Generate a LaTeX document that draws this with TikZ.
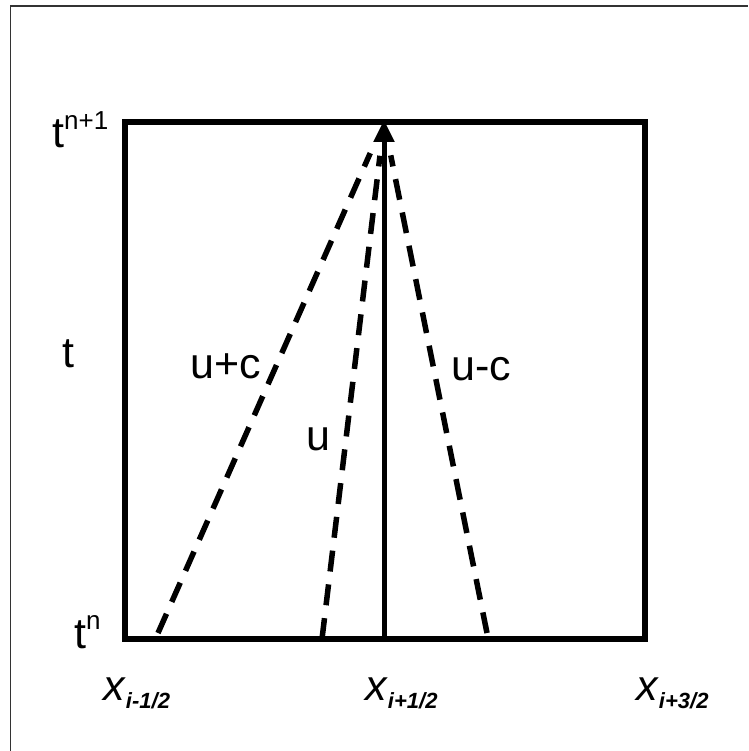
\documentclass[tikz,border=0pt]{standalone}
\usepackage{fontspec}
\setmainfont{Liberation Sans}
\usetikzlibrary{arrows.meta,positioning}

\newcommand{\lblfont}{\fontsize{43}{43}\selectfont}
\newcommand{\supfont}{\fontsize{26}{26}\selectfont}
\newcommand{\subfont}{\fontsize{22}{22}\selectfont\bfseries\itshape}
\newcommand{\tsup}[1]{t\raisebox{.42em}{\supfont #1}}
\newcommand{\xsub}[1]{\textit{x}\raisebox{-8pt}{\subfont #1}}

\begin{document}
\begin{tikzpicture}[x=1pt, y=-1pt, every node/.style={font=\lblfont, inner sep=0pt}, lbl/.style={anchor=base west}, cell/.style={line width=5.5pt}, wave/.style={line width=5.5pt, dash pattern=on 21pt off 13pt, shorten >=34pt}, arrow/.style={-{Triangle[length=22pt,width=20pt]}, line width=5pt}]
\useasboundingbox (0,0) rectangle (748,751);
\draw[line width=1.5pt, black!80] (10.5,751)--(10.5,6)--(748,6);
% cell
\draw[cell] (125,122) rectangle (645,639);
\coordinate (top) at (384,122);
\coordinate (mid) at (384,639);
\coordinate (pc) at (158,633);
\coordinate (pu) at (322,639);
\coordinate (mc) at (487,633);
\draw[arrow] (mid)--([yshift=2pt]top);
\draw[wave] (pc)--(top); \draw[wave] (pu)--(top); \draw[wave] (mc)--(top);
% labels
\node[lbl] (tnp) at (52,148) {\tsup{n+1}};
\node[lbl] (tn) at (74,648) {\tsup{n}};
\node[lbl] (t) at (62,367) {t};
\node[lbl] (lupc) at (190,378) {u+c};
\node[lbl] (lu) at (306,450) {u};
\node[lbl] (lumc) at (451,380) {u-c};
\node[lbl] (xa) at (103,700) {\xsub{i-1/2}};
\node[lbl] (xb) at (365,700) {\xsub{i+1/2}};
\node[lbl] (xc) at (636,700) {\xsub{i+3/2}};
\end{tikzpicture}
\end{document}
